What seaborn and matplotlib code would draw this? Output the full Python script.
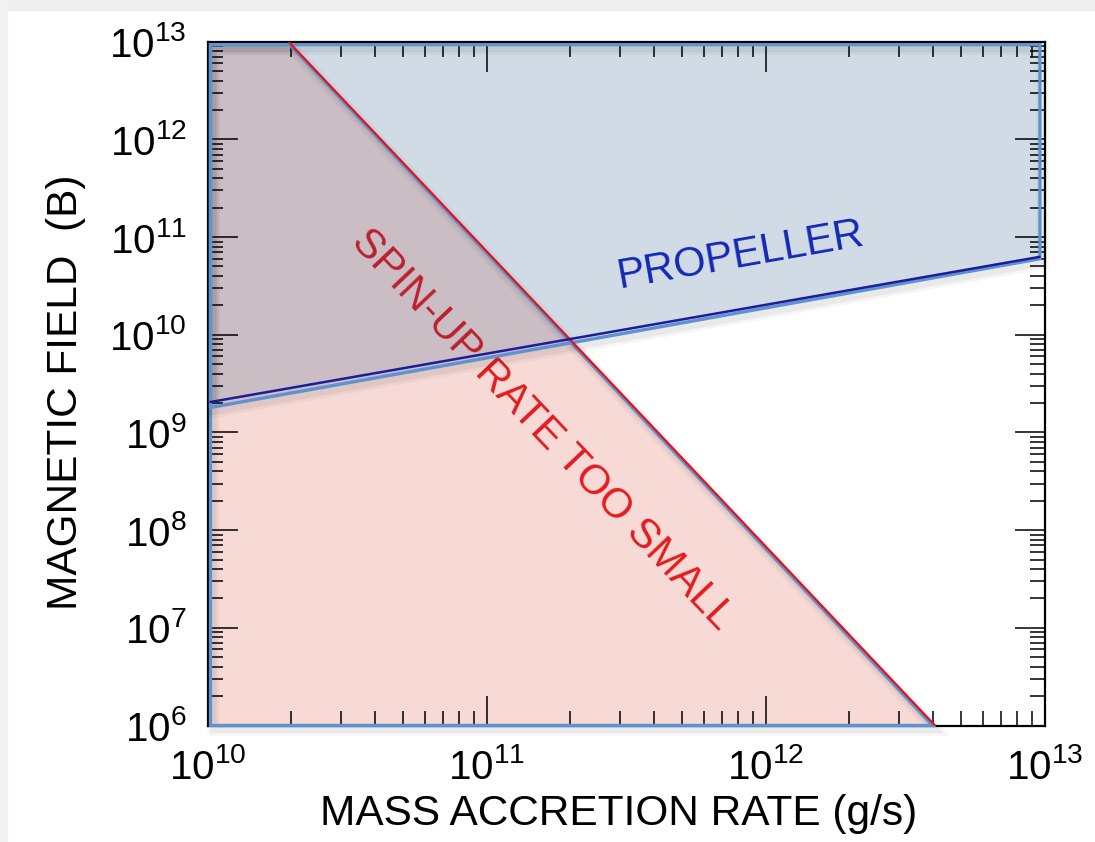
import numpy as np
import pandas as pd
import matplotlib
matplotlib.use("Agg")
import matplotlib.pyplot as plt
import seaborn as sns
from matplotlib import patheffects as pe
from matplotlib.patches import Rectangle
from matplotlib.ticker import NullFormatter, LogLocator

# ---------------- data ----------------
# spin-up limit line (red)
spin_mdot = [1.95e10, 4.05e12]
spin_b = [1.0e13, 1.0e6]
# spin-up region boundary (pink polygon)
spin_reg_mdot = [1.025e10, 1.025e10, 1.97e10, 3.97e12]
spin_reg_b = [1.0e6, 9.33e12, 9.33e12, 1.0e6]
# propeller limit line (navy)
prop_mdot = [1.025e10, 9.6e12]
prop_b = [2.05e9, 6.27e10]
# propeller region boundary (blue polygon)
prop_reg_mdot = [1.025e10, 9.63e12, 9.63e12, 1.025e10]
prop_reg_b = [1.8e9, 6.0e10, 9.33e12, 9.33e12]

x_lim = [1e10, 1e13]
y_lim = [1e6, 1e13]
x_ticks = [1e10, 1e11, 1e12, 1e13]
y_ticks = [1e6, 1e7, 1e8, 1e9, 1e10, 1e11, 1e12, 1e13]

label_spin = "SPIN-UP RATE TOO SMALL"
label_prop = "PROPELLER"
xlabel = "MASS ACCRETION RATE (g/s)"
ylabel = "MAGNETIC FIELD  (B)"

# ---------------- style ----------------
sns.set_theme(style="ticks")
plt.rcParams["font.family"] = ["Liberation Sans", "DejaVu Sans"]
plt.rcParams["mathtext.fontset"] = "custom"
plt.rcParams["mathtext.rm"] = "Liberation Sans"
plt.rcParams["mathtext.it"] = "Liberation Sans:italic"
plt.rcParams["mathtext.bf"] = "Liberation Sans:bold"
for k in ["text.color", "axes.labelcolor", "xtick.color", "ytick.color", "axes.edgecolor"]:
    plt.rcParams[k] = "black"

W, H, DPI = 1095, 842, 100
fig = plt.figure(figsize=(W / DPI, H / DPI), dpi=DPI, facecolor="white")
L, R, T, B = 207.5, 1044.5, 41.7, 725.5
ax = fig.add_axes([L / W, 1 - B / H, (R - L) / W, (B - T) / H])
ax.set_xscale("log")
ax.set_yscale("log")
ax.set_xlim(*x_lim)
ax.set_ylim(*y_lim)

pink = "#f7dad6"
blue_fill = "#003c74"
edge_c = "#5f93cf"
red_c = "#e8101a"
navy_c = "#1c1c9c"

shadow = [pe.SimpleLineShadow(offset=(2, -3), shadow_color="k", alpha=0.04, linewidth=9),
          pe.SimpleLineShadow(offset=(2, -3), shadow_color="k", alpha=0.06, linewidth=5),
          pe.Normal()]

# fills
ax.fill(spin_reg_mdot, spin_reg_b, color=pink, lw=0, zorder=0.5)
ax.text(1.58e11, 1.06e9, label_spin, color="#e61a1e", fontsize=30,
        rotation=-46.5, ha="center", va="center", rotation_mode="anchor", zorder=0.6)
ax.fill(prop_reg_mdot, prop_reg_b, color=blue_fill, alpha=0.18, lw=0, zorder=0.7)

# region edges
ax.plot(spin_reg_mdot + [spin_reg_mdot[0]], spin_reg_b + [spin_reg_b[0]], color=edge_c,
        lw=2.4, zorder=4, clip_on=False, path_effects=shadow, solid_joinstyle="miter")
ax.plot(prop_reg_mdot + [prop_reg_mdot[0]], prop_reg_b + [prop_reg_b[0]], color=edge_c,
        lw=2.4, zorder=4, clip_on=False, path_effects=shadow, solid_joinstyle="miter")

# limit lines
df_spin = pd.DataFrame({"mdot": spin_mdot, "B": spin_b})
df_prop = pd.DataFrame({"mdot": prop_mdot, "B": prop_b})
sns.lineplot(data=df_spin, x="mdot", y="B", ax=ax, color=red_c, lw=1.6, zorder=5)
sns.lineplot(data=df_prop, x="mdot", y="B", ax=ax, color=navy_c, lw=1.8, zorder=5)

ax.text(8.17e11, 6.55e10, label_prop, color="#1428b4", fontsize=30,
        rotation=10, ha="center", va="center", rotation_mode="anchor", zorder=6)

# axes cosmetics
ax.set_xticks(x_ticks)
ax.set_yticks(y_ticks)
ax.xaxis.set_minor_locator(LogLocator(base=10, subs=np.arange(2, 10)))
ax.yaxis.set_minor_locator(LogLocator(base=10, subs=np.arange(2, 10), numticks=20))
ax.xaxis.set_minor_formatter(NullFormatter())
ax.yaxis.set_minor_formatter(NullFormatter())
ax.set_xlim(*x_lim)
ax.set_ylim(*y_lim)
for s in ax.spines.values():
    s.set_linewidth(1.6)
    s.set_color("black")
    s.set_zorder(3)
ax.tick_params(which="both", direction="in", top=True, right=True, colors="black")
ax.tick_params(which="major", length=21.6, width=1.1, labelsize=29)
ax.tick_params(axis="x", which="major", pad=16)
ax.tick_params(axis="y", which="major", pad=15)
ax.tick_params(which="minor", length=10.8, width=1.1)
ax.set_axisbelow(False)

ax.set_xlabel(xlabel, fontsize=30.5)
ax.set_ylabel(ylabel, fontsize=30.5)
ax.xaxis.set_label_coords(0.4917, -0.100)
ax.yaxis.set_label_coords(-0.145, 0.488)

# screenshot frame strips
fig.patches.append(Rectangle((0, 1 - 10 / H), 1, 10 / H, transform=fig.transFigure,
                             color="#efefef", zorder=-1))
fig.patches.append(Rectangle((0, 0), 7 / W, 1, transform=fig.transFigure,
                             color="#f3f3f3", zorder=-1))

fig.savefig("out.png", dpi=DPI, facecolor="white")
